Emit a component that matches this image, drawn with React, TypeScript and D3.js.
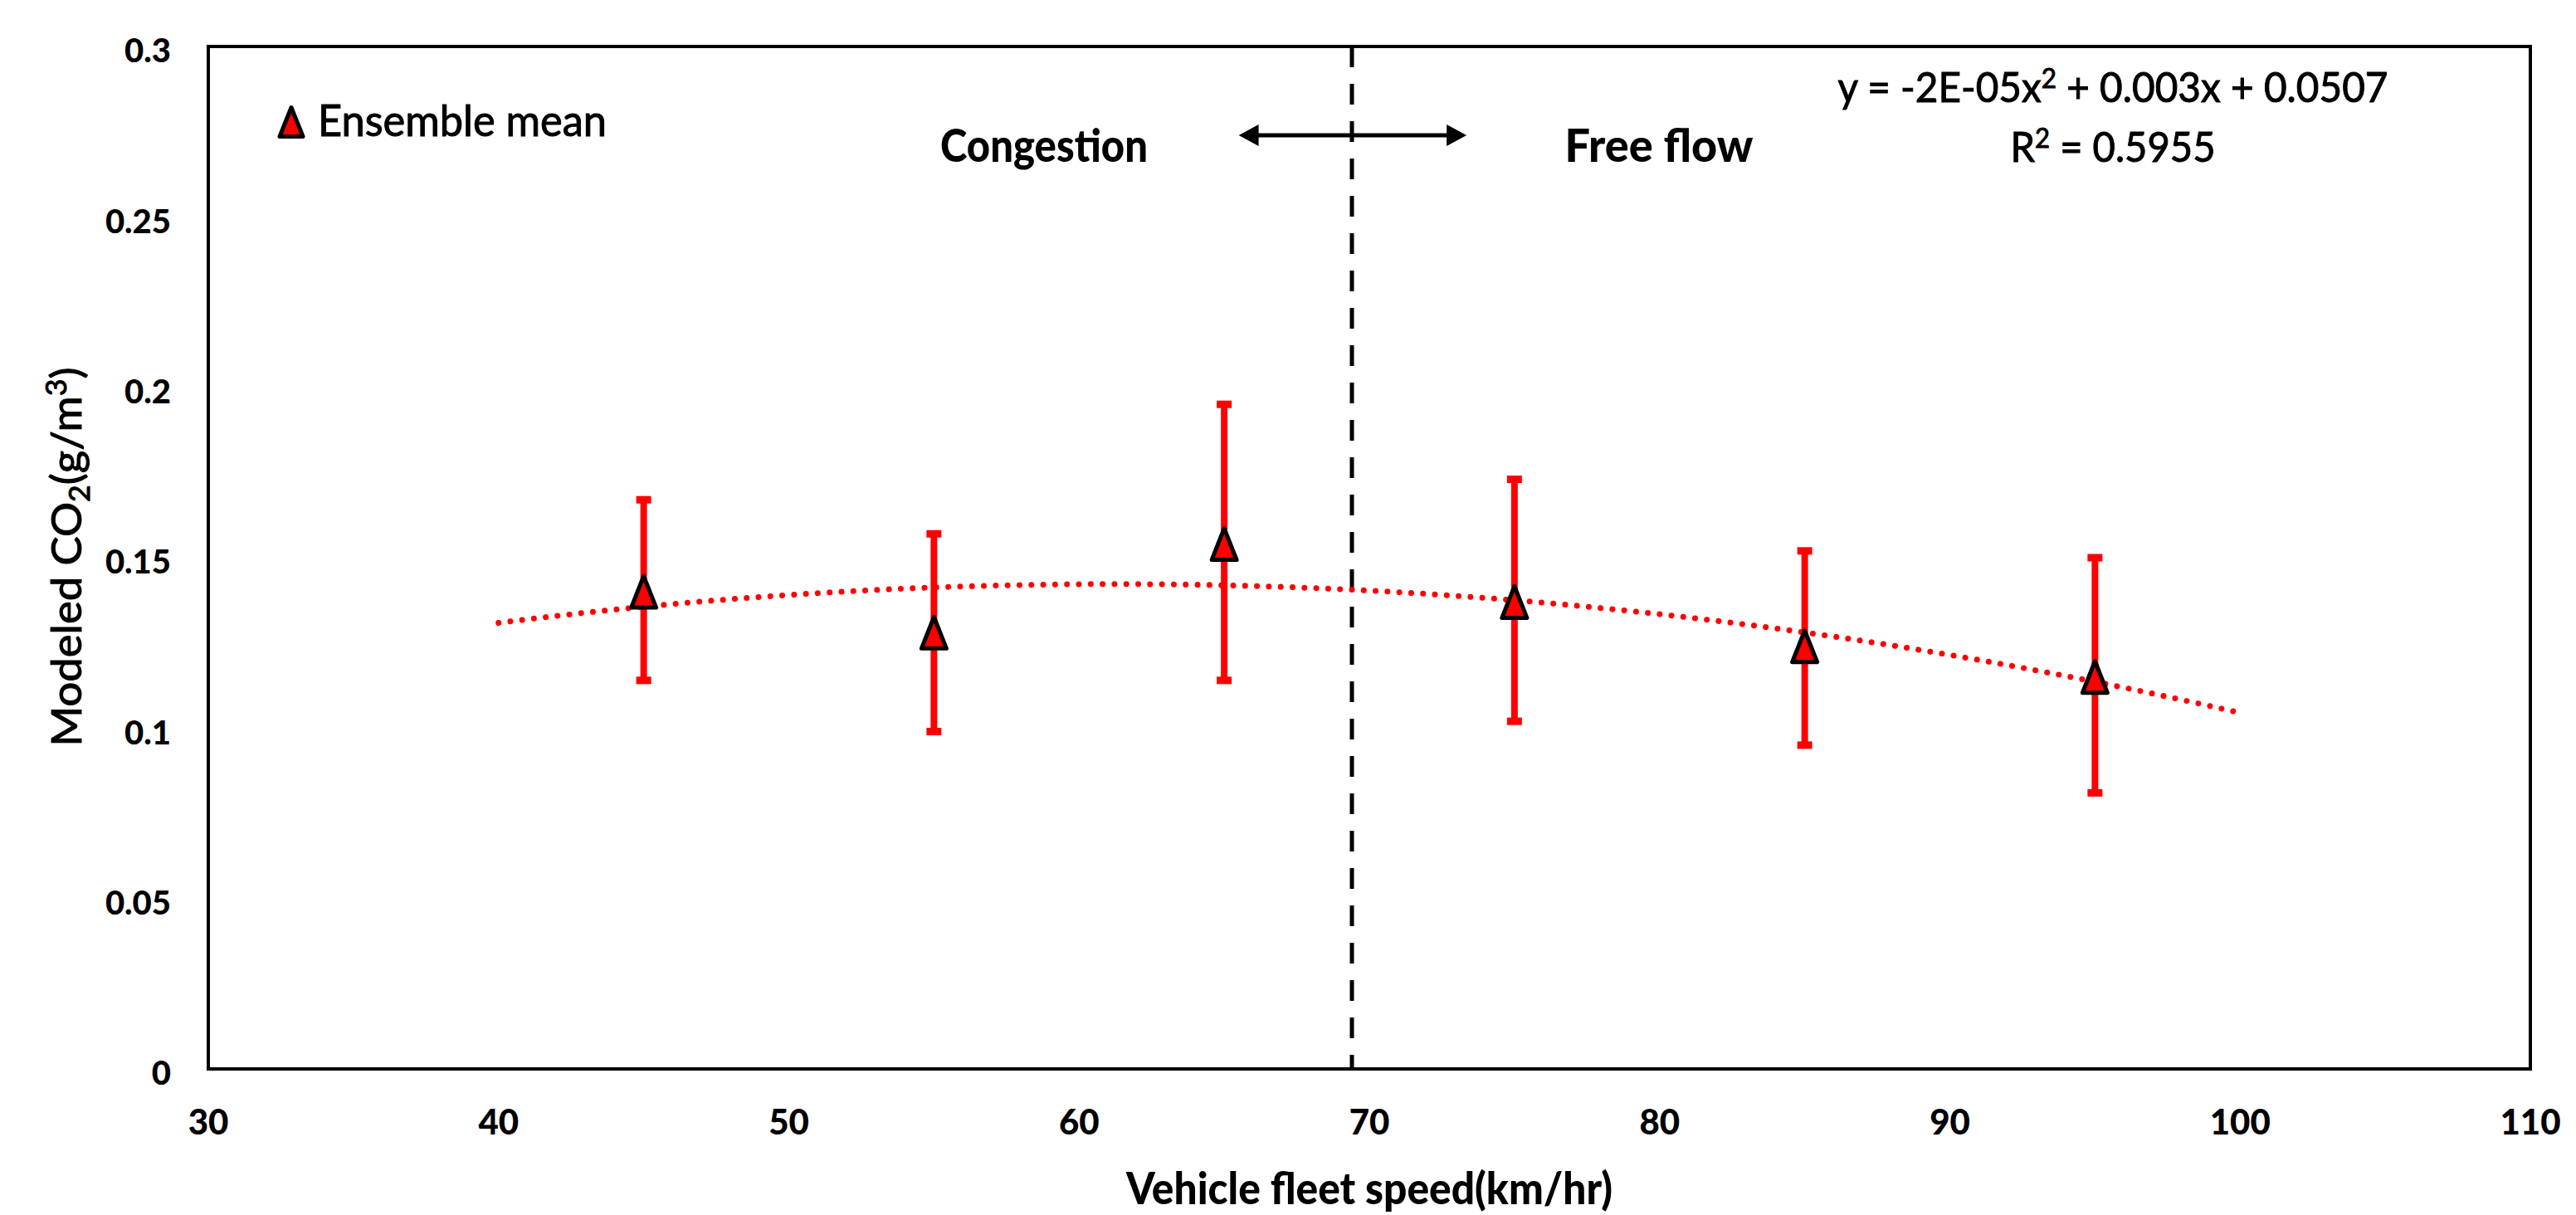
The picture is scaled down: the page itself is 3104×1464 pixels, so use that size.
import React, { useRef, useEffect } from 'react';
import * as d3 from 'd3';

// ensemble mean CO2 per fleet speed bin, with error bar ends
const speeds = [45, 55, 65, 75, 85, 95];
const meanCO2 = [0.140, 0.128, 0.154, 0.137, 0.124, 0.115];
const upperCO2 = [0.167, 0.157, 0.195, 0.173, 0.152, 0.150];
const lowerCO2 = [0.114, 0.099, 0.114, 0.102, 0.095, 0.081];

const xTicks = [30, 40, 50, 60, 70, 80, 90, 100, 110];
const yTicks = [0, 0.05, 0.1, 0.15, 0.2, 0.25, 0.3];
const yTickLabels = ['0', '0.05', '0.1', '0.15', '0.2', '0.25', '0.3'];

const trendRange = [40, 100];
const regimeBoundary = 69.4;
const arrowSpan = [65.5, 73.35];

const FONT = 'Lato, "Open Sans", sans-serif';

// least squares quadratic, centred on 70 to keep it well conditioned
function fitQuadratic(xs, ys) {
  const us = xs.map(x => (x - 70) / 10);
  const n = us.length;
  const s = k => d3.sum(us, u => u ** k);
  const sy = k => d3.sum(us, (u, i) => u ** k * ys[i]);
  const A = [[n, s(1), s(2)], [s(1), s(2), s(3)], [s(2), s(3), s(4)]];
  const B = [sy(0), sy(1), sy(2)];
  // gaussian elimination
  for (let i = 0; i < 3; i++) {
    for (let j = i + 1; j < 3; j++) {
      const f = A[j][i] / A[i][i];
      for (let k = i; k < 3; k++) A[j][k] -= f * A[i][k];
      B[j] -= f * B[i];
    }
  }
  const c = [0, 0, 0];
  for (let i = 2; i >= 0; i--) {
    let v = B[i];
    for (let k = i + 1; k < 3; k++) v -= A[i][k] * c[k];
    c[i] = v / A[i][i];
  }
  return x => {
    const u = (x - 70) / 10;
    return c[0] + c[1] * u + c[2] * u * u;
  };
}

const ScatterChart = () => {
  const svgRef = useRef();

  useEffect(() => {
    document.body.style.margin = '0';
    const svg = d3.select(svgRef.current);
    svg.selectAll('*').remove();

    const width = 3104;
    const height = 1464;
    const left = 251, right = 3049, top = 56, bottom = 1288;

    const x = d3.scaleLinear().domain([30, 110]).range([left, right]);
    const y = d3.scaleLinear().domain([0, 0.3]).range([bottom, top]);

    svg.append('rect').attr('width', width).attr('height', height).attr('fill', 'white');

    // frame
    svg.append('rect')
      .attr('x', left).attr('y', top)
      .attr('width', right - left).attr('height', bottom - top)
      .attr('fill', 'none').attr('stroke', 'black').attr('stroke-width', 4);

    // y tick labels
    svg.append('g').selectAll('text')
      .data(yTicks)
      .join('text')
      .attr('x', 206)
      .attr('y', d => y(d) + 5)
      .attr('dy', '0.36em')
      .attr('text-anchor', 'end')
      .attr('font-family', FONT).attr('font-weight', 900).attr('font-size', 40)
      .text((d, i) => yTickLabels[i]);

    // x tick labels
    svg.append('g').selectAll('text')
      .data(xTicks)
      .join('text')
      .attr('x', d => x(d))
      .attr('y', 1367)
      .attr('text-anchor', 'middle')
      .attr('font-family', FONT).attr('font-weight', 900).attr('font-size', 42)
      .text(d => d);

    // axis titles
    svg.append('text')
      .attr('x', (left + right) / 2).attr('y', 1451)
      .attr('text-anchor', 'middle')
      .attr('font-family', FONT).attr('font-weight', 900).attr('font-size', 54)
      .attr('textLength', 586).attr('lengthAdjust', 'spacingAndGlyphs')
      .text('Vehicle fleet speed(km/hr)');

    const yTitle = svg.append('text')
      .attr('transform', 'translate(98,671) rotate(-90)')
      .attr('text-anchor', 'middle')
      .attr('font-family', FONT).attr('font-size', 50)
      .attr('stroke', 'black').attr('stroke-width', 1)
      .attr('textLength', 457).attr('lengthAdjust', 'spacingAndGlyphs');
    yTitle.append('tspan').text('Modeled CO');
    yTitle.append('tspan').attr('font-size', 34).attr('dy', 10).text('2');
    yTitle.append('tspan').attr('dy', -10).text('(g/m');
    yTitle.append('tspan').attr('font-size', 34).attr('dy', -18).text('3');
    yTitle.append('tspan').attr('dy', 18).text(')');

    // regime boundary
    svg.append('line')
      .attr('x1', x(regimeBoundary)).attr('x2', x(regimeBoundary))
      .attr('y1', top).attr('y2', bottom)
      .attr('stroke', 'black').attr('stroke-width', 5)
      .attr('stroke-dasharray', '25 20');

    // double arrow
    const ay = 163;
    const ax1 = x(arrowSpan[0]), ax2 = x(arrowSpan[1]);
    svg.append('line')
      .attr('x1', ax1 + 10).attr('x2', ax2 - 10)
      .attr('y1', ay).attr('y2', ay)
      .attr('stroke', 'black').attr('stroke-width', 5);
    svg.append('path')
      .attr('d', `M${ax1},${ay} l24,-13 l0,26 Z M${ax2},${ay} l-24,-13 l0,26 Z`)
      .attr('fill', 'black');

    svg.append('text')
      .attr('x', 1258).attr('y', 195).attr('text-anchor', 'middle')
      .attr('font-family', FONT).attr('font-weight', 900).attr('font-size', 55)
      .attr('textLength', 250).attr('lengthAdjust', 'spacingAndGlyphs')
      .text('Congestion');
    svg.append('text')
      .attr('x', 1999).attr('y', 195).attr('text-anchor', 'middle')
      .attr('font-family', FONT).attr('font-weight', 900).attr('font-size', 55)
      .attr('textLength', 227).attr('lengthAdjust', 'spacingAndGlyphs')
      .text('Free flow');

    // trend equation
    const eq = svg.append('text')
      .attr('x', 2546).attr('y', 123).attr('text-anchor', 'middle')
      .attr('font-family', FONT).attr('font-size', 50)
      .attr('stroke', 'black').attr('stroke-width', 1)
      .attr('textLength', 663).attr('lengthAdjust', 'spacingAndGlyphs');
    eq.append('tspan').text('y = -2E-05x');
    eq.append('tspan').attr('font-size', 33).attr('dy', -17).text('2');
    eq.append('tspan').attr('dy', 17).text(' + 0.003x + 0.0507');

    const r2 = svg.append('text')
      .attr('x', 2546).attr('y', 195).attr('text-anchor', 'middle')
      .attr('font-family', FONT).attr('font-size', 50)
      .attr('stroke', 'black').attr('stroke-width', 1)
      .attr('textLength', 247).attr('lengthAdjust', 'spacingAndGlyphs');
    r2.append('tspan').text('R');
    r2.append('tspan').attr('font-size', 33).attr('dy', -17).text('2');
    r2.append('tspan').attr('dy', 17).text(' = 0.5955');

    // polynomial trendline (order 2), forecast 5 each way
    const trend = fitQuadratic(speeds, meanCO2);
    const trendX = d3.range(trendRange[0], trendRange[1] + 0.01, 0.5);
    svg.append('path')
      .datum(trendX)
      .attr('fill', 'none')
      .attr('stroke', '#ff0000').attr('stroke-width', 7)
      .attr('stroke-linecap', 'round')
      .attr('stroke-dasharray', '0.01 14.3')
      .attr('d', d3.line().x(d => x(d)).y(d => y(trend(d))));

    // error bars
    const bars = svg.append('g').attr('stroke', '#ff0000');
    speeds.forEach((s, i) => {
      const cx = x(s);
      bars.append('line')
        .attr('x1', cx).attr('x2', cx)
        .attr('y1', y(upperCO2[i])).attr('y2', y(lowerCO2[i]))
        .attr('stroke-width', 8);
      [upperCO2[i], lowerCO2[i]].forEach(v => {
        bars.append('line')
          .attr('x1', cx - 9).attr('x2', cx + 9)
          .attr('y1', y(v)).attr('y2', y(v))
          .attr('stroke-width', 9);
      });
    });

    // triangle markers
    const tri = (w, h) => `M0,${-h / 2}L${w / 2},${h / 2}L${-w / 2},${h / 2}Z`;
    svg.append('g').selectAll('path')
      .data(speeds)
      .join('path')
      .attr('transform', (d, i) => `translate(${x(d)},${y(meanCO2[i])})`)
      .attr('d', tri(30, 38))
      .attr('fill', '#ff0000')
      .attr('stroke', 'black').attr('stroke-width', 5)
      .attr('stroke-linejoin', 'round');

    // legend
    svg.append('path')
      .attr('transform', 'translate(351,147)')
      .attr('d', tri(28, 35))
      .attr('fill', '#ff0000')
      .attr('stroke', 'black').attr('stroke-width', 5)
      .attr('stroke-linejoin', 'round');
    svg.append('text')
      .attr('x', 383).attr('y', 164)
      .attr('font-family', FONT).attr('font-size', 53)
      .attr('stroke', 'black').attr('stroke-width', 1)
      .attr('textLength', 348).attr('lengthAdjust', 'spacingAndGlyphs')
      .text('Ensemble mean');
  }, []);

  return <svg ref={svgRef} width={3104} height={1464} style={{ display: 'block' }} />;
};

export default function App() {
  return <ScatterChart />;
}
